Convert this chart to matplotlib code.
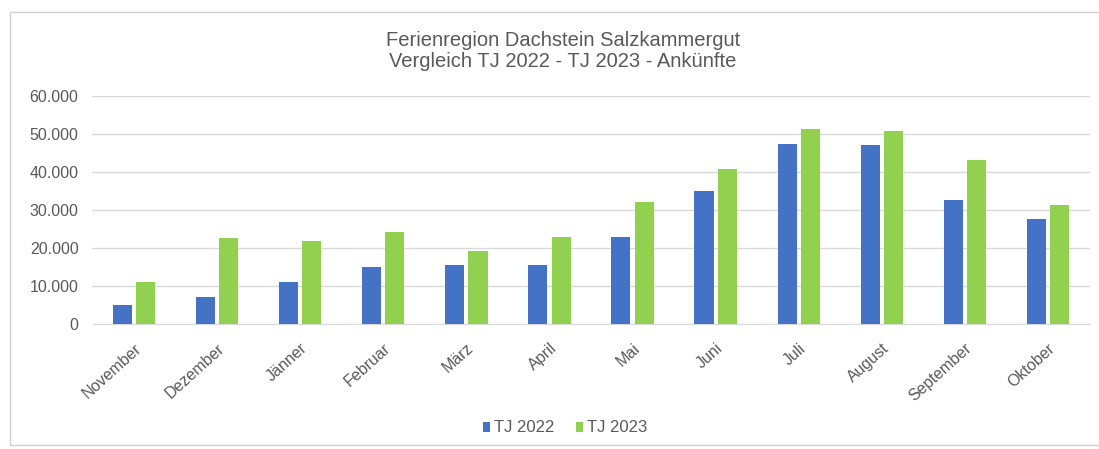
import matplotlib.pyplot as plt
import numpy as np
from matplotlib.ticker import FuncFormatter
from matplotlib.patches import Rectangle

plt.rcParams['font.family'] = ['Liberation Sans', 'DejaVu Sans']

# ---------------- DATA ----------------
months = ['November', 'Dezember', 'Jänner', 'Februar', 'März', 'April',
          'Mai', 'Juni', 'Juli', 'August', 'September', 'Oktober']
tj_2022 = [5000, 7200, 11100, 15100, 15600, 15600, 22800, 34900, 47400, 47100, 32700, 27600]
tj_2023 = [11000, 22600, 21900, 24300, 19100, 23000, 32000, 40700, 51200, 50700, 43100, 31300]

BLUE = '#4472c4'
GREEN = '#92d050'
TXT = '#595959'
GRID = '#d9d9d9'

fig = plt.figure(figsize=(10.99, 4.49), dpi=100)
# outer chart frame
fig.patches.append(Rectangle((10 / 1099, 4 / 449), 1.0, 1 - 16 / 449, transform=fig.transFigure,
                             fill=False, edgecolor='#d0d0d0', linewidth=1))

ax = fig.add_axes([92.5 / 1099, 1 - 324 / 449, 997 / 1099, 228 / 449])

x = np.arange(len(months))
w = 0.23
ax.bar(x - 0.14, tj_2022, w, color=BLUE, label='TJ 2022', zorder=3)
ax.bar(x + 0.14, tj_2023, w, color=GREEN, label='TJ 2023', zorder=3)

ax.set_xlim(-0.5, len(months) - 0.5)
ax.set_ylim(0, 60000)
ax.set_yticks(range(0, 60001, 10000))
ax.yaxis.set_major_formatter(FuncFormatter(lambda v, p: f"{int(v):,}".replace(',', '.')))
ax.grid(axis='y', color=GRID, linewidth=1, zorder=0)

for s in ['top', 'right', 'left']:
    ax.spines[s].set_visible(False)
ax.spines['bottom'].set_color(GRID)

ax.set_xticks(x)
ax.set_xticklabels(months, rotation=42, ha='right', rotation_mode='anchor')
ax.tick_params(axis='both', length=0, colors=TXT, labelsize=11.5)
ax.tick_params(axis='y', pad=10)
ax.tick_params(axis='x', pad=12)

fig.text(0.512, 1 - 51 / 449, 'Ferienregion Dachstein Salzkammergut\nVergleich TJ 2022 - TJ 2023 - Ankünfte',
         ha='center', va='center', fontsize=14.5, color=TXT, linespacing=1.1)

fig.legend(loc='center', bbox_to_anchor=(0.514, 1 - 428 / 449), ncol=2, frameon=False,
           fontsize=12, labelcolor=TXT, handlelength=0.45, handleheight=0.55,
           handletextpad=0.2, columnspacing=1.3)

fig.savefig('out.png', dpi=100)
